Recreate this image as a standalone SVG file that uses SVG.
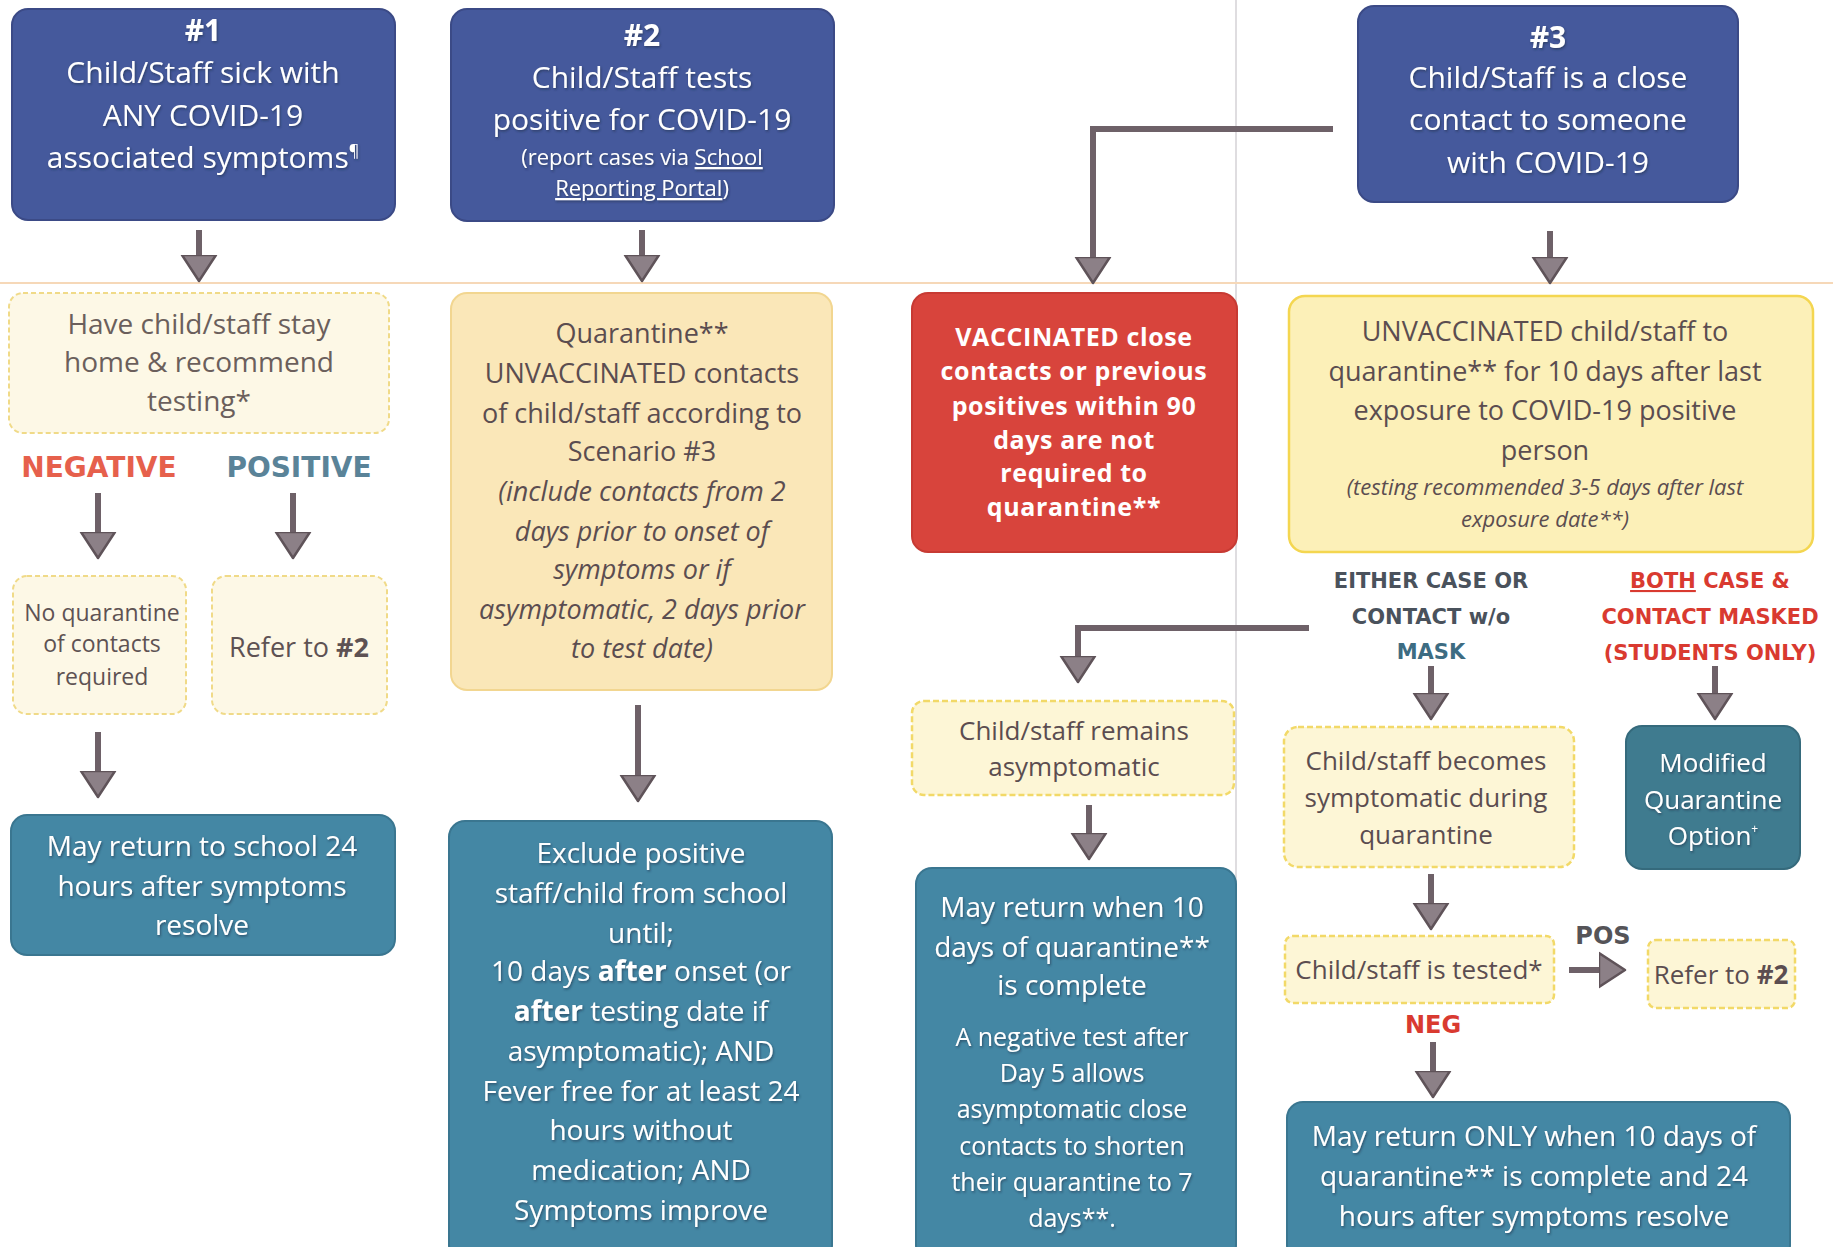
<svg xmlns="http://www.w3.org/2000/svg" width="1833" height="1247" viewBox="0 0 1833 1247">
<defs>
<marker id="ah" viewBox="0 -19 28 38" markerWidth="28" markerHeight="38" refX="6" refY="0" orient="auto" markerUnits="userSpaceOnUse">
<path d="M0,-17 L26,0 L0,17 Z" fill="#8c8087" stroke="#5f5359" stroke-width="2.5" stroke-linejoin="round"/>
</marker>
<filter id="sh" x="-5%" y="-5%" width="110%" height="110%"><feDropShadow dx="1" dy="1.5" stdDeviation="0.8" flood-color="#1d2b45" flood-opacity="0.6"/></filter>
</defs>
<style>
text{font-family:"Open Sans","Liberation Sans",sans-serif;text-anchor:middle}
.hdr{fill:#45599c;stroke:#3b4a86;stroke-width:2}
.teal{fill:#4487a4;stroke:#3a7690;stroke-width:2}
.teal2{fill:#3f7b8f;stroke:#356a7c;stroke-width:2}
.red{fill:#d8443c;stroke:#c73a33;stroke-width:2}
.pale{fill:#fdf8e6;stroke:#f0da88;stroke-width:2;stroke-dasharray:5 3}
.quar{fill:#fae7b8;stroke:#f2d690;stroke-width:2}
.yel{fill:#fcf0b8;stroke:#f4d650;stroke-width:2.5}
.yelp{fill:#fdf6d6;stroke:#f2d968;stroke-width:2.5;stroke-dasharray:6 3}
.w{fill:#ffffff;font-size:28px}
.wt{fill:#ffffff;font-size:30px}
.d{fill:#5b4d50;font-size:28px}
.it{font-style:italic}
.b{font-weight:700}
.rb{fill:#ffffff;font-weight:700;font-size:25px;letter-spacing:0.6px}
.conn{stroke:#6e6168;stroke-width:6;fill:none;marker-end:url(#ah)}
.lbl{font-family:"DejaVu Sans","Liberation Sans",sans-serif;font-weight:700}
</style>

<line x1="1236" y1="0" x2="1236" y2="1247" stroke="#d5d2d6" stroke-width="1.5"/>
<line x1="0" y1="283" x2="1833" y2="283" stroke="#f6d8b8" stroke-width="2"/>

<g id="n1">
<rect class="hdr" x="12" y="9" width="383" height="211" rx="16"/>
<g filter="url(#sh)">
<text class="wt b" x="203" y="41">#1</text>
<text class="wt" x="203" y="83">Child/Staff sick with</text>
<text class="wt" x="203" y="126">ANY COVID-19</text>
<text class="wt" x="203" y="168">associated symptoms<tspan font-size="16" dy="-12">¶</tspan></text>
</g>
</g>
<g id="n2">
<rect class="hdr" x="451" y="9" width="383" height="212" rx="16"/>
<g filter="url(#sh)">
<text class="wt b" x="642" y="46">#2</text>
<text class="wt" x="642" y="88">Child/Staff tests</text>
<text class="wt" x="642" y="130">positive for COVID-19</text>
<text class="w" style="font-size:22px" x="642" y="165">(report cases via <tspan text-decoration="underline">School</tspan></text>
<text class="w" style="font-size:22px" x="642" y="196"><tspan text-decoration="underline">Reporting Portal</tspan>)</text>
</g>
</g>
<g id="n3">
<rect class="hdr" x="1358" y="6" width="380" height="196" rx="16"/>
<g filter="url(#sh)">
<text class="wt b" x="1548" y="48">#3</text>
<text class="wt" x="1548" y="88">Child/Staff is a close</text>
<text class="wt" x="1548" y="130">contact to someone</text>
<text class="wt" x="1548" y="173">with COVID-19</text>
</g>
</g>

<g id="n4">
<rect class="pale" x="9" y="293" width="380" height="140" rx="14"/>
<text class="d" style="fill:#6b5f5c" x="199" y="334">Have child/staff stay</text>
<text class="d" style="fill:#6b5f5c" x="199" y="372">home &amp; recommend</text>
<text class="d" style="fill:#6b5f5c" x="199" y="411">testing*</text>
</g>
<g id="lbl-neg"><text class="lbl" x="99" y="477" style="font-size:28px;fill:#e6604c">NEGATIVE</text></g>
<g id="lbl-pos"><text class="lbl" x="299" y="477" style="font-size:28px;fill:#5a8398">POSITIVE</text></g>
<g id="n5">
<rect class="pale" x="13" y="576" width="173" height="138" rx="14"/>
<text class="d" style="font-size:23px;fill:#5e5253" x="102" y="621">No quarantine</text>
<text class="d" style="font-size:23px;fill:#5e5253" x="102" y="652">of contacts</text>
<text class="d" style="font-size:23px;fill:#5e5253" x="102" y="685">required</text>
</g>
<g id="n6">
<rect class="pale" x="212" y="576" width="175" height="138" rx="14"/>
<text class="d" style="font-size:27px;fill:#5e5253" x="299" y="657">Refer to <tspan class="b">#2</tspan></text>
</g>
<g id="n7">
<rect class="teal" x="11" y="815" width="384" height="140" rx="16"/>
<g filter="url(#sh)">
<text class="w" x="202" y="856">May return to school 24</text>
<text class="w" x="202" y="896">hours after symptoms</text>
<text class="w" x="202" y="935">resolve</text>
</g>
</g>

<g id="n8">
<rect class="quar" x="451" y="293" width="381" height="397" rx="16"/>
<text class="d" style="font-size:27px" x="642" y="343">Quarantine**</text>
<text class="d" style="font-size:27px" x="642" y="383">UNVACCINATED contacts</text>
<text class="d" style="font-size:27px" x="642" y="423">of child/staff according to</text>
<text class="d" style="font-size:27px" x="642" y="461">Scenario #3</text>
<text class="d it" style="font-size:27px" x="642" y="501">(include contacts from 2</text>
<text class="d it" style="font-size:27px" x="642" y="541">days prior to onset of</text>
<text class="d it" style="font-size:27px" x="642" y="579">symptoms or if</text>
<text class="d it" style="font-size:27px" x="642" y="619">asymptomatic, 2 days prior</text>
<text class="d it" style="font-size:27px" x="642" y="658">to test date)</text>
</g>
<g id="n9">
<rect class="teal" x="449" y="821" width="383" height="440" rx="16"/>
<g filter="url(#sh)">
<text class="w" x="641" y="863">Exclude positive</text>
<text class="w" x="641" y="903">staff/child from school</text>
<text class="w" x="641" y="943">until;</text>
<text class="w" x="641" y="981">10 days <tspan class="b">after</tspan> onset (or</text>
<text class="w" x="641" y="1021"><tspan class="b">after</tspan> testing date if</text>
<text class="w" x="641" y="1061">asymptomatic); AND</text>
<text class="w" x="641" y="1101">Fever free for at least 24</text>
<text class="w" x="641" y="1140">hours without</text>
<text class="w" x="641" y="1180">medication; AND</text>
<text class="w" x="641" y="1220">Symptoms improve</text>
</g>
</g>

<g id="n10">
<rect class="red" x="912" y="293" width="325" height="259" rx="16"/>
<text class="rb" x="1074" y="346">VACCINATED close</text>
<text class="rb" x="1074" y="380">contacts or previous</text>
<text class="rb" x="1074" y="415">positives within 90</text>
<text class="rb" x="1074" y="449">days are not</text>
<text class="rb" x="1074" y="482">required to</text>
<text class="rb" x="1074" y="516">quarantine**</text>
</g>
<g id="n11">
<rect class="yel" x="1289" y="296" width="524" height="256" rx="16"/>
<text class="d" style="font-size:27px" x="1545" y="341">UNVACCINATED child/staff to</text>
<text class="d" style="font-size:27px" x="1545" y="381">quarantine** for 10 days after last</text>
<text class="d" style="font-size:27px" x="1545" y="420">exposure to COVID-19 positive</text>
<text class="d" style="font-size:27px" x="1545" y="460">person</text>
<text class="d it" style="font-size:22px" x="1545" y="495">(testing recommended 3-5 days after last</text>
<text class="d it" style="font-size:22px" x="1545" y="527">exposure date**)</text>
</g>

<g id="lbl-either">
<text class="lbl" style="font-size:21px;fill:#4a525c" x="1431" y="588">EITHER CASE OR</text>
<text class="lbl" style="font-size:21px;fill:#4a525c" x="1431" y="624">CONTACT w/o</text>
<text class="lbl" style="font-size:21px;fill:#3d6c82" x="1431" y="659">MASK</text>
</g>
<g id="lbl-both">
<text class="lbl" style="font-size:21px;fill:#d93a30" x="1710" y="588"><tspan text-decoration="underline">BOTH</tspan> CASE &amp;</text>
<text class="lbl" style="font-size:21px;fill:#d93a30" x="1710" y="624">CONTACT MASKED</text>
<text class="lbl" style="font-size:21px;fill:#d93a30" x="1710" y="660">(STUDENTS ONLY)</text>
</g>

<g id="n12">
<rect class="yelp" x="912" y="701" width="322" height="94" rx="12"/>
<text class="d" style="font-size:26px" x="1074" y="740">Child/staff remains</text>
<text class="d" style="font-size:26px" x="1074" y="776">asymptomatic</text>
</g>
<g id="n13">
<rect class="teal" x="916" y="868" width="320" height="393" rx="16"/>
<g filter="url(#sh)">
<text class="w" x="1072" y="917">May return when 10</text>
<text class="w" x="1072" y="957">days of quarantine**</text>
<text class="w" x="1072" y="995">is complete</text>
<text class="w" style="font-size:25px" x="1072" y="1046">A negative test after</text>
<text class="w" style="font-size:25px" x="1072" y="1082">Day 5 allows</text>
<text class="w" style="font-size:25px" x="1072" y="1118">asymptomatic close</text>
<text class="w" style="font-size:25px" x="1072" y="1155">contacts to shorten</text>
<text class="w" style="font-size:25px" x="1072" y="1191">their quarantine to 7</text>
<text class="w" style="font-size:25px" x="1072" y="1227">days**.</text>
</g>
</g>
<g id="n14">
<rect class="yelp" x="1284" y="727" width="290" height="140" rx="14"/>
<text class="d" style="font-size:26px" x="1426" y="770">Child/staff becomes</text>
<text class="d" style="font-size:26px" x="1426" y="807">symptomatic during</text>
<text class="d" style="font-size:26px" x="1426" y="844">quarantine</text>
</g>
<g id="n15">
<rect class="teal2" x="1626" y="726" width="174" height="143" rx="16"/>
<g filter="url(#sh)">
<text class="w" style="font-size:26px" x="1713" y="772">Modified</text>
<text class="w" style="font-size:26px" x="1713" y="809">Quarantine</text>
<text class="w" style="font-size:26px" x="1713" y="845">Option<tspan font-size="12" dy="-12">+</tspan></text>
</g>
</g>
<g id="n16">
<rect class="yelp" x="1285" y="936" width="269" height="67" rx="8"/>
<text class="d" style="font-size:26px" x="1419" y="979">Child/staff is tested*</text>
</g>
<g id="lbl-pos2"><text class="lbl" style="font-size:24px;fill:#555458" x="1603" y="944">POS</text></g>
<g id="n17">
<rect class="yelp" x="1648" y="940" width="147" height="68" rx="8"/>
<text class="d" style="font-size:26px" x="1721" y="984">Refer to <tspan class="b">#2</tspan></text>
</g>
<g id="lbl-neg2"><text class="lbl" style="font-size:24px;fill:#d93a30" x="1433" y="1033">NEG</text></g>
<g id="n18">
<rect class="teal" x="1287" y="1102" width="503" height="159" rx="16"/>
<g filter="url(#sh)">
<text class="w" x="1534" y="1146">May return ONLY when 10 days of</text>
<text class="w" x="1534" y="1186">quarantine** is complete and 24</text>
<text class="w" x="1534" y="1226">hours after symptoms resolve</text>
</g>
</g>

<g id="connectors">
<line class="conn" x1="199" y1="230" x2="199" y2="261"/>
<line class="conn" x1="642" y1="230" x2="642" y2="261"/>
<line class="conn" x1="1550" y1="231" x2="1550" y2="263"/>
<path class="conn" d="M1333,129 L1093,129 L1093,263"/>
<line class="conn" x1="98" y1="493" x2="98" y2="538"/>
<line class="conn" x1="293" y1="493" x2="293" y2="538"/>
<line class="conn" x1="98" y1="732" x2="98" y2="777"/>
<line class="conn" x1="638" y1="705" x2="638" y2="781"/>
<path class="conn" d="M1309,628 L1078,628 L1078,662"/>
<line class="conn" x1="1089" y1="805" x2="1089" y2="839"/>
<line class="conn" x1="1431" y1="666" x2="1431" y2="699"/>
<line class="conn" x1="1715" y1="666" x2="1715" y2="699"/>
<line class="conn" x1="1431" y1="874" x2="1431" y2="909"/>
<line class="conn" x1="1569" y1="970" x2="1605" y2="970"/>
<line class="conn" x1="1433" y1="1042" x2="1433" y2="1077"/>
</g>
</svg>
